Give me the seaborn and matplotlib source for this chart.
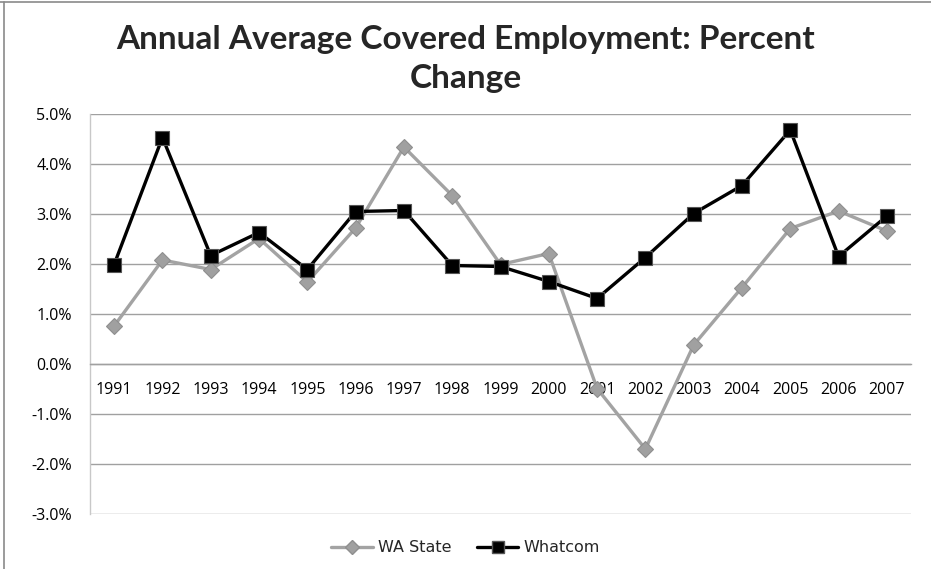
import matplotlib
matplotlib.use("Agg")
import matplotlib.pyplot as plt
from matplotlib.lines import Line2D
from matplotlib.ticker import FuncFormatter, MultipleLocator
import seaborn as sns
import pandas as pd

years = list(range(1991, 2008))
wa_state = [0.76, 2.08, 1.89, 2.51, 1.64, 2.72, 4.34, 3.37, 1.99, 2.21,
            -0.49, -1.70, 0.38, 1.53, 2.71, 3.06, 2.66]
whatcom = [1.99, 4.53, 2.17, 2.63, 1.89, 3.05, 3.07, 1.97, 1.95, 1.65,
           1.31, 2.13, 3.01, 3.57, 4.68, 2.15, 2.96]
series_names = ["WA State", "Whatcom"]
title = "Annual Average Covered Employment: Percent\nChange"

df = pd.DataFrame({
    "year": years * 2,
    "pct": [v / 100 for v in wa_state + whatcom],
    "series": [series_names[0]] * len(years) + [series_names[1]] * len(years),
})

sns.set_theme(style="white")
plt.rcParams["font.family"] = ["Open Sans", "DejaVu Sans"]

fig = plt.figure(figsize=(9.31, 5.69), dpi=100)
ax = fig.add_axes([90 / 931, 1 - 514 / 569, 821 / 931, 400 / 569])

palette = {"WA State": "#a3a3a3", "Whatcom": "#000000"}
markers = {"WA State": "D", "Whatcom": "s"}
sns.lineplot(data=df, x="year", y="pct", hue="series", style="series",
             palette=palette, markers=markers, dashes=False, linewidth=2.4,
             markersize=9, ax=ax, legend=False, zorder=3)

# marker styling per series
for line, name in zip(ax.get_lines(), series_names):
    if name == "WA State":
        line.set_markersize(8)
        line.set_markeredgecolor("#8f8f8f")
        line.set_markerfacecolor("#a0a0a0")
    else:
        line.set_markersize(10)
        line.set_markeredgecolor("#555555")
        line.set_markerfacecolor("#000000")
    line.set_markeredgewidth(0.8)

ax.set_xlim(years[0] - 0.5, years[-1] + 0.5)
ax.set_ylim(-0.03, 0.05)
ax.yaxis.set_major_locator(MultipleLocator(0.01))
ax.yaxis.set_major_formatter(FuncFormatter(lambda v, _: f"{v * 100:.1f}%"))
ax.set_xticks(years)
ax.set_xticklabels([str(y) for y in years])
ax.set_xlabel("")
ax.set_ylabel("")

ax.grid(axis="y", color="#a0a0a0", linewidth=1.0)
ax.grid(axis="x", visible=False)
for side in ["top", "right"]:
    ax.spines[side].set_visible(False)
ax.spines["left"].set_color("#c8c8c8")
ax.spines["left"].set_linewidth(1.0)
ax.spines["bottom"].set_position(("data", 0))
ax.spines["bottom"].set_color("#a0a0a0")
ax.spines["bottom"].set_linewidth(1.0)
ax.tick_params(axis="x", length=0, pad=13, labelsize=11.5, colors="#000000")
ax.tick_params(axis="y", length=0, pad=13, labelsize=11.5, colors="#000000")

fig.text(0.5, 1 - 59 / 569, title, ha="center", va="center",
         fontsize=24, fontweight="bold", linespacing=1.4,
         family=["Lato", "DejaVu Sans"])

handles = [
    Line2D([], [], color="#a3a3a3", linewidth=2.4, marker="D", markersize=7,
           markerfacecolor="#a0a0a0", markeredgecolor="#8f8f8f"),
    Line2D([], [], color="#000000", linewidth=2.4, marker="s", markersize=8,
           markerfacecolor="#000000", markeredgecolor="#555555"),
]
fig.legend(handles, series_names, loc="center", bbox_to_anchor=(0.5, 1 - 548 / 569),
           ncol=2, frameon=False, handlelength=2.6, columnspacing=1.6,
           handletextpad=0.3, prop={"family": ["Liberation Sans Narrow", "DejaVu Sans"], "size": 11.5})

# outer chart frame (top and left edges)
fig.add_artist(Line2D([0, 1], [1 - 2 / 569] * 2, color="#8a8a8a", linewidth=1.2,
                      transform=fig.transFigure))
fig.add_artist(Line2D([4 / 931] * 2, [0, 1 - 2 / 569], color="#8a8a8a", linewidth=1.2,
                      transform=fig.transFigure))

fig.savefig("out.png", dpi=100)
